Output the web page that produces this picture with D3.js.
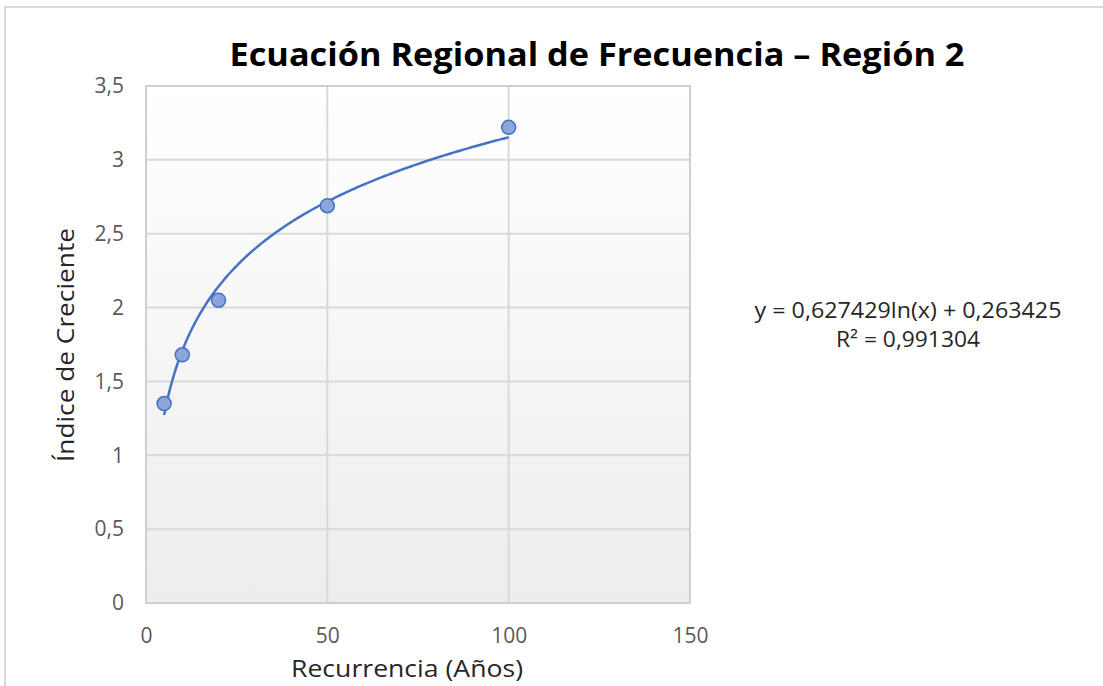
<!DOCTYPE html>
<html>
<head>
<meta charset="utf-8">
<script src="https://cdn.jsdelivr.net/npm/d3@7"></script>
<style>
  body { margin: 0; background: #fff; }
  svg { display: block; font-family: "Open Sans", sans-serif; }
</style>
</head>
<body>
<svg id="chart" width="1103" height="686"></svg>
<script>
// data
const recurrencia = [5, 10, 20, 50, 100];
const indice = [1.35, 1.68, 2.05, 2.69, 3.22];
const xTicks = [0, 50, 100, 150];
const yTicks = [0, 0.5, 1, 1.5, 2, 2.5, 3, 3.5];
const coefA = 0.627429, coefB = 0.263425;   // trendline y = a ln(x) + b
const eqLines = ['y = 0,627429ln(x) + 0,263425', 'R² = 0,991304'];
const eqWidths = [307, 144];

const margin = { top: 86, left: 146, right: 413, bottom: 83 };
const width = 1103 - margin.left - margin.right;
const height = 686 - margin.top - margin.bottom;

const svg = d3.select('#chart');

// chart frame
svg.append('path')
    .attr('d', 'M5,686 V7 H1103')
    .attr('fill', 'none')
    .attr('stroke', '#d9d9d9')
    .attr('stroke-width', 2);

const grad = svg.append('defs').append('linearGradient')
    .attr('id', 'plotbg').attr('x1', 0).attr('y1', 0).attr('x2', 0).attr('y2', 1);
grad.append('stop').attr('offset', '0%').attr('stop-color', '#ffffff');
grad.append('stop').attr('offset', '100%').attr('stop-color', '#ededed');

const g = svg.append('g')
    .attr('transform', `translate(${margin.left}, ${margin.top})`);

const x = d3.scaleLinear().domain([0, 150]).range([0, width]);
const y = d3.scaleLinear().domain([0, 3.5]).range([height, 0]);

g.append('rect')
    .attr('width', width).attr('height', height)
    .attr('fill', 'url(#plotbg)');

// grid
g.selectAll('.ygrid').data(yTicks).enter().append('line')
    .attr('x1', 0).attr('x2', width)
    .attr('y1', d => y(d)).attr('y2', d => y(d))
    .attr('stroke', '#d9d9d9').attr('stroke-width', 2);
g.selectAll('.xgrid').data(xTicks).enter().append('line')
    .attr('y1', 0).attr('y2', height)
    .attr('x1', d => x(d)).attr('x2', d => x(d))
    .attr('stroke', '#d9d9d9').attr('stroke-width', 2);
g.append('rect')
    .attr('width', width).attr('height', height)
    .attr('fill', 'none').attr('stroke', '#cfcfcf').attr('stroke-width', 2);

const fmt = d => String(d).replace('.', ',');

// axes
const xAxis = d3.axisBottom(x).tickValues(xTicks).tickSize(0).tickPadding(25).tickFormat(fmt);
const yAxis = d3.axisLeft(y).tickValues(yTicks).tickSize(0).tickPadding(22).tickFormat(fmt);

g.append('g').attr('transform', `translate(0,${height})`).call(xAxis)
    .call(a => a.select('.domain').remove())
    .selectAll('text').attr('font-size', 21).attr('fill', '#595959')
    .attr('font-family', '"Open Sans", sans-serif');
g.append('g').call(yAxis)
    .call(a => a.select('.domain').remove())
    .selectAll('text').attr('font-size', 21).attr('fill', '#595959')
    .attr('font-family', '"Open Sans", sans-serif');

// trendline
const trend = d3.range(5, 100.01, 0.5).map(v => [v, coefA * Math.log(v) + coefB]);
g.append('path')
    .datum(trend)
    .attr('d', d3.line().x(d => x(d[0])).y(d => y(d[1])))
    .attr('fill', 'none')
    .attr('stroke', '#4472c4')
    .attr('stroke-width', 2.5);

// points
g.selectAll('.pt').data(recurrencia).enter().append('circle')
    .attr('cx', d => x(d))
    .attr('cy', (d, i) => y(indice[i]))
    .attr('r', 7)
    .attr('fill', '#8ea5dc')
    .attr('stroke', '#4472c4')
    .attr('stroke-width', 1.5);

// title
svg.append('text')
    .attr('x', 597).attr('y', 66)
    .attr('text-anchor', 'middle')
    .attr('font-size', 33).attr('font-weight', 'bold')
    .attr('fill', '#000')
    .attr('textLength', 735).attr('lengthAdjust', 'spacingAndGlyphs')
    .text('Ecuación Regional de Frecuencia  – Región 2');

// axis titles
svg.append('text')
    .attr('x', 407).attr('y', 677)
    .attr('text-anchor', 'middle')
    .attr('font-size', 23).attr('fill', '#262626')
    .attr('textLength', 232).attr('lengthAdjust', 'spacingAndGlyphs')
    .text('Recurrencia (Años)');

svg.append('text')
    .attr('transform', 'translate(74,345) rotate(-90)')
    .attr('text-anchor', 'middle')
    .attr('font-size', 24).attr('fill', '#262626')
    .attr('textLength', 234).attr('lengthAdjust', 'spacingAndGlyphs')
    .text('Índice de Creciente');

// equation label
svg.selectAll('.eq').data(eqLines).enter().append('text')
    .attr('x', 908).attr('y', (d, i) => 318 + i * 29)
    .attr('text-anchor', 'middle')
    .attr('font-size', 21).attr('fill', '#262626')
    .attr('textLength', (d, i) => eqWidths[i]).attr('lengthAdjust', 'spacingAndGlyphs')
    .text(d => d);
</script>
</body>
</html>
